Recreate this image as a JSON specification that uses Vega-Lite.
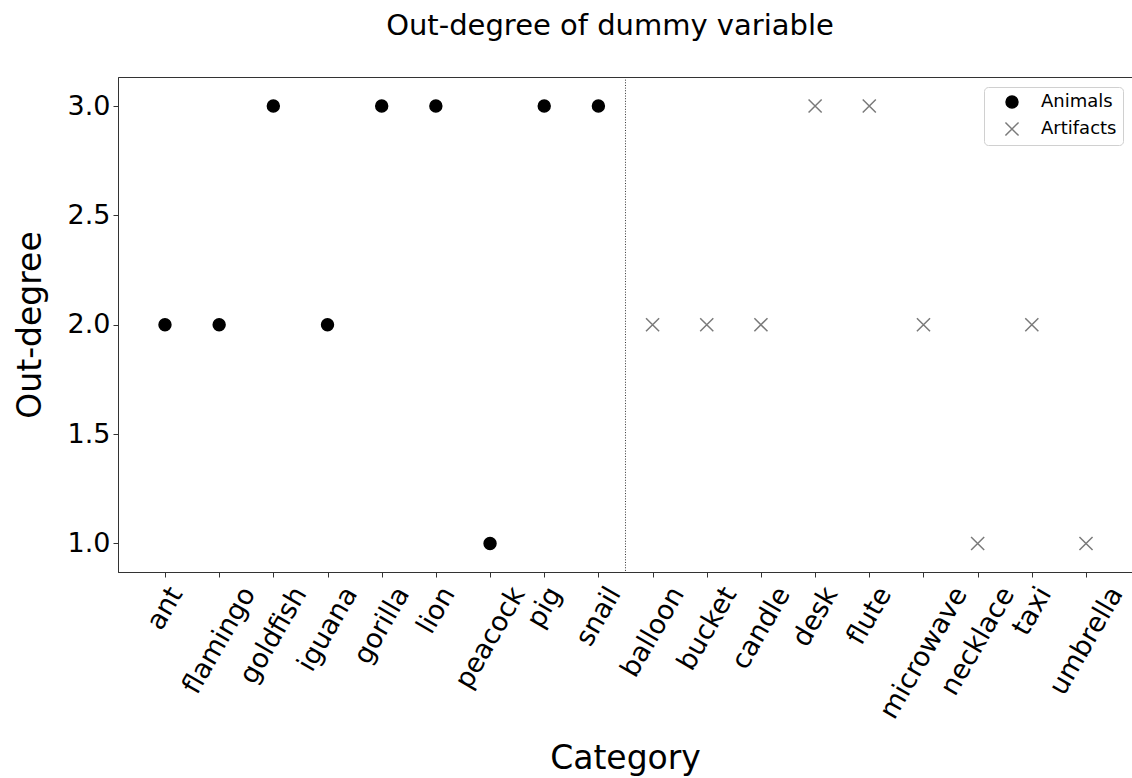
{
  "$schema": "https://vega.github.io/schema/vega-lite/v6.json",
  "width": 1014,
  "height": 495,
  "autosize": "none",
  "padding": {"left": 118, "top": 77, "right": 0, "bottom": 206},
  "background": "white",
  "title": {
    "text": "Out-degree of dummy variable",
    "font": "DejaVu Sans",
    "fontSize": 29,
    "fontWeight": "normal",
    "color": "black",
    "offset": 36,
    "dx": -15
  },
  "config": {
    "font": "DejaVu Sans",
    "view": {"stroke": "#333333", "strokeWidth": 1},
    "axis": {
      "grid": false,
      "domainColor": "#333333",
      "tickColor": "#333333",
      "tickSize": 5,
      "labelColor": "black",
      "titleColor": "black",
      "labelFont": "DejaVu Sans",
      "titleFont": "DejaVu Sans",
      "labelFontSize": 27,
      "titleFontSize": 33,
      "titleFontWeight": "normal"
    },
    "legend": {
      "orient": "none",
      "legendX": 866,
      "legendY": 10,
      "padding": 6,
      "strokeColor": "#d0d0d0",
      "fillColor": "white",
      "cornerRadius": 4,
      "labelFont": "DejaVu Sans",
      "labelFontSize": 18,
      "labelColor": "black",
      "symbolSize": 142,
      "symbolStrokeWidth": 1.5,
      "symbolOffset": 13,
      "labelOffset": 20,
      "rowPadding": 8
    }
  },
  "layer": [
    {
      "data": {
        "values": [
          {"name": "ant", "idx": 0, "group": "Animals", "degree": 2},
          {"name": "flamingo", "idx": 1, "group": "Animals", "degree": 2},
          {"name": "goldfish", "idx": 2, "group": "Animals", "degree": 3},
          {"name": "iguana", "idx": 3, "group": "Animals", "degree": 2},
          {"name": "gorilla", "idx": 4, "group": "Animals", "degree": 3},
          {"name": "lion", "idx": 5, "group": "Animals", "degree": 3},
          {"name": "peacock", "idx": 6, "group": "Animals", "degree": 1},
          {"name": "pig", "idx": 7, "group": "Animals", "degree": 3},
          {"name": "snail", "idx": 8, "group": "Animals", "degree": 3},
          {"name": "balloon", "idx": 9, "group": "Artifacts", "degree": 2},
          {"name": "bucket", "idx": 10, "group": "Artifacts", "degree": 2},
          {"name": "candle", "idx": 11, "group": "Artifacts", "degree": 2},
          {"name": "desk", "idx": 12, "group": "Artifacts", "degree": 3},
          {"name": "flute", "idx": 13, "group": "Artifacts", "degree": 3},
          {"name": "microwave", "idx": 14, "group": "Artifacts", "degree": 2},
          {"name": "necklace", "idx": 15, "group": "Artifacts", "degree": 1},
          {"name": "taxi", "idx": 16, "group": "Artifacts", "degree": 2},
          {"name": "umbrella", "idx": 17, "group": "Artifacts", "degree": 1}
        ]
      },
      "mark": {"type": "point", "opacity": 1, "strokeWidth": 1.5, "size": 142},
      "encoding": {
        "x": {
          "field": "idx",
          "type": "quantitative",
          "scale": {"domain": [-0.867, 17.849], "nice": false, "zero": false},
          "axis": {
            "title": "Category",
            "titlePadding": 20,
            "values": [0, 1, 2, 3, 4, 5, 6, 7, 8, 9, 10, 11, 12, 13, 14, 15, 16, 17],
            "labelExpr": "['ant','flamingo','goldfish','iguana','gorilla','lion','peacock','pig','snail','balloon','bucket','candle','desk','flute','microwave','necklace','taxi','umbrella'][datum.value]",
            "labelAngle": -60,
            "labelAlign": "right",
            "labelBaseline": "middle",
            "labelOffset": {"expr": "[11,29.5,26.6,23,21,12.2,28,10.4,15.7,24.7,23,22.4,15.9,15.3,36.9,29.9,12.7,30][datum.value]"},
            "labelPadding": 12,
            "labelOverlap": false,
            "labelFlush": false
          }
        },
        "y": {
          "field": "degree",
          "type": "quantitative",
          "scale": {"domain": [0.8697, 3.1326], "nice": false, "zero": false},
          "axis": {
            "title": "Out-degree",
            "titlePadding": 20,
            "values": [1, 1.5, 2, 2.5, 3],
            "format": ".1f",
            "labelPadding": 3
          }
        },
        "shape": {
          "field": "group",
          "type": "nominal",
          "scale": {"domain": ["Animals", "Artifacts"], "range": ["circle", "M-1.1,-1.1L1.1,1.1M1.1,-1.1L-1.1,1.1"]},
          "legend": {"title": null}
        },
        "fill": {
          "field": "group",
          "type": "nominal",
          "scale": {"domain": ["Animals", "Artifacts"], "range": ["black", "transparent"]},
          "legend": {"title": null}
        },
        "stroke": {
          "field": "group",
          "type": "nominal",
          "scale": {"domain": ["Animals", "Artifacts"], "range": ["black", "#7a7a7a"]},
          "legend": {"title": null}
        }
      }
    },
    {
      "data": {"values": [{"boundary": 8.5}]},
      "mark": {"type": "rule", "stroke": "#333333", "strokeWidth": 1, "strokeDash": [1, 1.65]},
      "encoding": {
        "x": {"field": "boundary", "type": "quantitative"}
      }
    }
  ]
}
